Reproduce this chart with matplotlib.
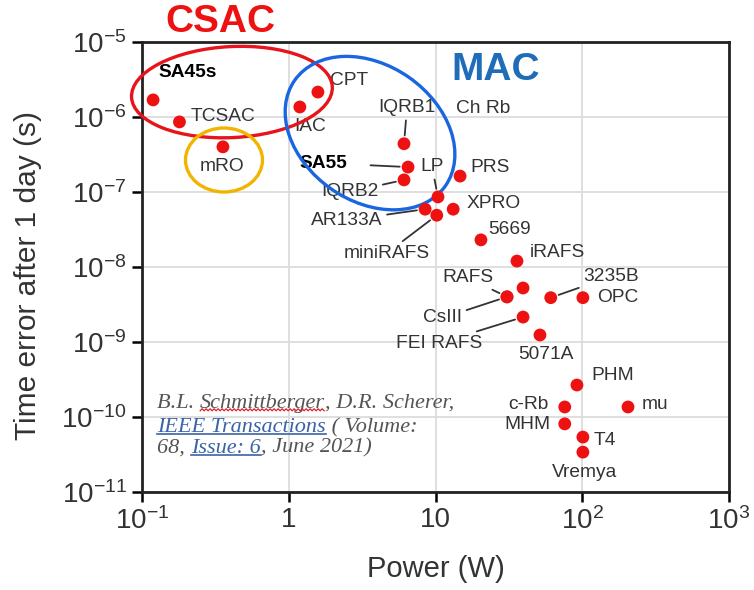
import numpy as np
import matplotlib
matplotlib.use("Agg")
import matplotlib.pyplot as plt
from matplotlib.patches import Ellipse
from matplotlib.lines import Line2D
from matplotlib.ticker import NullLocator
from matplotlib.transforms import ScaledTranslation

plt.rcParams['font.family'] = ['Liberation Sans', 'DejaVu Sans']

# clocks: power (W) vs time error after 1 day (s)
names = ["SA45s", "TCSAC", "mRO", "IAC", "CPT", "IQRB1", "SA55", "IQRB2", "LP",
         "PRS", "XPRO", "AR133A", "miniRAFS", "5669", "iRAFS", "", "RAFS", "CsIII",
         "FEI RAFS", "3235B", "OPC", "5071A", "PHM", "c-Rb", "mu", "MHM", "T4", "Vremya"]
power = [0.119, 0.18, 0.356, 1.19, 1.58, 6.1, 6.5, 6.1, 10.4,
         14.7, 13.2, 8.5, 10.2, 20.4, 35.9, 39.5, 30.7, 30.7,
         39.5, 61, 101, 51.5, 92, 76, 205, 76, 101, 101]
error = [1.69e-6, 8.6e-7, 4.0e-7, 1.36e-6, 2.15e-6, 4.4e-7, 2.15e-7, 1.45e-7, 8.6e-8,
         1.63e-7, 5.9e-8, 5.9e-8, 4.9e-8, 2.3e-8, 1.2e-8, 5.25e-9, 4.0e-9, 4.0e-9,
         2.15e-9, 3.9e-9, 3.9e-9, 1.24e-9, 2.67e-10, 1.36e-10, 1.36e-10, 8.1e-11, 5.4e-11, 3.4e-11]

# label placement (pixels from the dot) and leader lines
label_dx = [35, 44, -1, 10, 31, 3, -85, -54, -6, 30, 40, -78, -50, 29, 40, 0, -39, -64,
            -84, 60, 35, 6, 36, -36, 27, -37, 22, 2]
label_dy = [27, 5, -20, -20, 12, 36, 4, -12, 30, 9, 6, -11, -38, 10, 9, 0, 19, -21,
            -26, 21, 0, -20, 10, 2, 2, -1, -3, -20]
leader = ["IQRB1", "SA55", "IQRB2", "LP", "AR133A", "miniRAFS", "RAFS", "CsIII", "FEI RAFS", "3235B"]
bold_names = ["SA45s", "SA55"]

xticks = [0.1, 1, 10, 100, 1000]
xtick_labels = [r'$\mathdefault{10^{-1}}$', '1', '10', r'$\mathdefault{10^{2}}$', r'$\mathdefault{10^{3}}$']
yticks = [1e-11, 1e-10, 1e-9, 1e-8, 1e-7, 1e-6, 1e-5]

fig = plt.figure(figsize=(7.54, 5.90), dpi=100)
ax = fig.add_axes([142/754, 98/590, 587/754, 450/590])
ax.set_xscale('log')
ax.set_yscale('log')

txtc = '#333333'
ax.scatter(power, error, s=85, color='#ee1111', edgecolors='none', zorder=5)

for i, nm in enumerate(names):
    if nm == "":
        continue
    kw = dict(xy=(power[i], error[i]), xytext=(label_dx[i], label_dy[i]),
              textcoords='offset pixels', ha='center', va='center', fontsize=13.8,
              color='black' if nm in bold_names else txtc,
              fontweight='bold' if nm in bold_names else 'normal', zorder=3)
    if nm in leader:
        kw['arrowprops'] = dict(arrowstyle='-', color='#333333', lw=1.3,
                                shrinkA=15 if nm == "SA55" else 1, shrinkB=6)
    ax.annotate(nm, **kw)

ax.text(21.1, 1.28e-6, "Ch Rb", fontsize=13.8, color=txtc, ha='center', va='center')

# group rings
def ring(xc, yc, w, h, ang, col):
    tr = fig.dpi_scale_trans + ScaledTranslation(xc, yc, ax.transData)
    ax.add_patch(Ellipse((0, 0), w, h, angle=ang, transform=tr, fill=False,
                         ec=col, lw=2.4, clip_on=False, zorder=4))

ring(0.41, 2.15e-6, 2.01, 0.91, 3, '#e8141c')
ring(0.362, 2.67e-7, 0.77, 0.64, 0, '#f2b400')
ring(3.58, 6.1e-7, 1.84, 1.36, -35, '#1a66e0')

ax.text(0.34, 1.85e-5, "CSAC", fontsize=28, fontweight='bold', color='#ee1111',
        ha='center', va='center', clip_on=False)
ax.text(25.8, 4.2e-6, "MAC", fontsize=28, fontweight='bold', color='#1f6db8',
        ha='center', va='center')

ax.set_xlim(0.1, 1000)
ax.set_ylim(1e-11, 1e-5)
ax.set_xticks(xticks, xtick_labels)
ax.set_yticks(yticks)
ax.xaxis.set_minor_locator(NullLocator())
ax.yaxis.set_minor_locator(NullLocator())
ax.grid(True, color='#dcdcdc', lw=1.3)
ax.set_axisbelow(True)
ax.tick_params(direction='out', length=7, width=1.8, labelsize=20, labelcolor=txtc, pad=4)
for sp in ax.spines.values():
    sp.set_linewidth(2)
    sp.set_color('#222222')

ax.set_xlabel("Power (W)", fontsize=21, color=txtc)
ax.set_ylabel("Time error after 1 day (s)", fontsize=21.5, color=txtc)
ax.xaxis.set_label_coords(0.5, -0.14)
ax.yaxis.set_label_coords(-0.17, 0.48)

# citation
grey = '#555555'
blue = '#3b63a6'
cite = [[("B.L. ", grey, None), ("Schmittberger", grey, 'wavy'), (", D.R. Scherer,", grey, None)],
        [("IEEE Transactions", blue, 'line'), (" ( Volume:", grey, None)],
        [("68, ", grey, None), ("Issue: 6", blue, 'line'), (", June 2021)", grey, None)]]
cite_y = [0.176, 0.122, 0.076]
marks = []
for row, yy in zip(cite, cite_y):
    prev = None
    for txt, col, deco in row:
        fkw = dict(fontsize=16, fontstyle='italic', color=col,
                   family=['Liberation Serif', 'DejaVu Serif'], va='bottom', ha='left')
        if prev is None:
            t = ax.text(0.026, yy, txt, transform=ax.transAxes, **fkw)
        else:
            t = ax.annotate(txt, xy=(1, 0), xycoords=prev, **fkw)
        if deco:
            marks.append((t, deco, col))
        prev = t

fig.canvas.draw()
W, H = fig.bbox.width, fig.bbox.height
for t, deco, col in marks:
    bb = t.get_window_extent()
    y0 = bb.y0 + 3
    if deco == 'line':
        fig.add_artist(Line2D([bb.x0 / W, bb.x1 / W], [y0 / H, y0 / H], color=col, lw=1.2))
    else:
        xs = np.arange(bb.x0, bb.x1, 2.0)
        ys = y0 + np.where(np.arange(len(xs)) % 2 == 0, -1.0, 1.0)
        fig.add_artist(Line2D(xs / W, ys / H, color='#e02020', lw=0.9))

fig.savefig("out.png", dpi=100)
